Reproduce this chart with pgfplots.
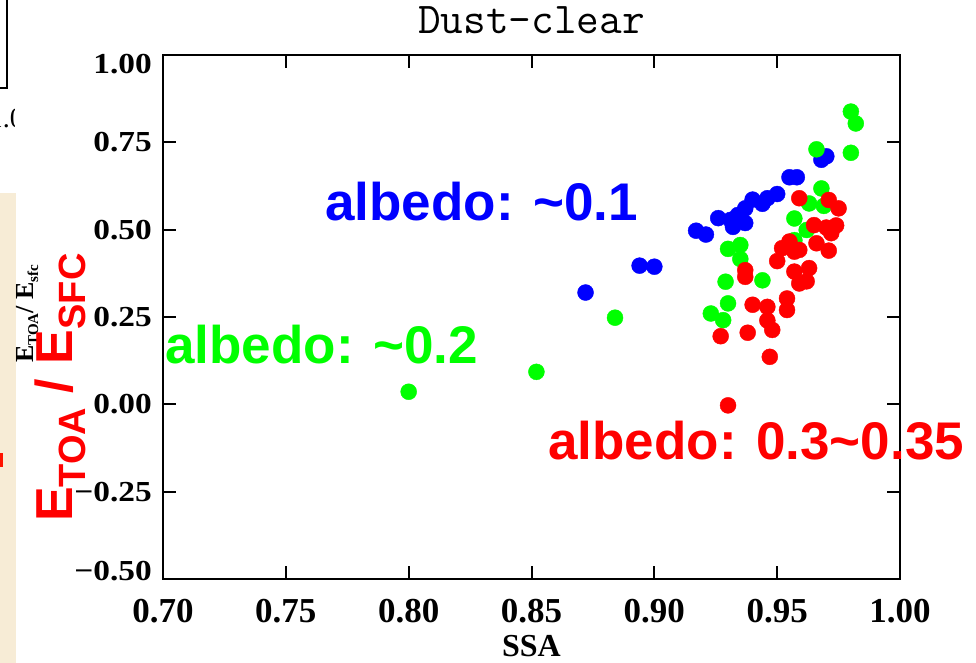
\documentclass[border=0pt]{standalone}
\usepackage{pgfplots}
\pgfplotsset{compat=1.18}
\usepackage{pgfplotstable}
\usepackage{graphicx}
\usepackage{fontspec}
\setmainfont{Liberation Serif}
\newfontfamily\sansfont{Liberation Sans}

\definecolor{pureblue}{RGB}{0,0,255}
\definecolor{puregreen}{RGB}{0,255,0}
\definecolor{purered}{RGB}{255,0,0}
\definecolor{parchment}{RGB}{247,236,214}

% single-scattering albedo vs. TOA/surface forcing ratio, grouped by surface albedo
\pgfplotstableread{
ssa ratio
0.872 0.320
0.894 0.397
0.900 0.394
0.917 0.497
0.921 0.486
0.926 0.533
0.931 0.528
0.932 0.508
0.934 0.542
0.937 0.519
0.937 0.561
0.940 0.586
0.944 0.574
0.946 0.590
0.950 0.602
0.955 0.650
0.958 0.650
0.968 0.700
0.970 0.710
}\albedoone

\pgfplotstableread{
ssa ratio
0.800 0.036
0.852 0.093
0.884 0.248
0.923 0.260
0.928 0.241
0.930 0.289
0.929 0.351
0.944 0.355
0.930 0.445
0.935 0.456
0.935 0.416
0.957 0.470
0.962 0.499
0.957 0.532
0.963 0.575
0.969 0.568
0.968 0.618
0.966 0.730
0.980 0.720
0.980 0.838
0.982 0.804
}\albedotwo

\pgfplotstableread{
ssa ratio
0.930 -0.003
0.927 0.195
0.938 0.205
0.947 0.136
0.946 0.240
0.948 0.213
0.940 0.285
0.946 0.279
0.954 0.303
0.954 0.270
0.937 0.365
0.937 0.384
0.950 0.410
0.952 0.447
0.955 0.466
0.957 0.437
0.957 0.380
0.959 0.346
0.963 0.390
0.962 0.352
0.959 0.590
0.971 0.585
0.975 0.561
0.965 0.513
0.970 0.506
0.974 0.512
0.972 0.490
0.966 0.461
0.971 0.440
0.959 0.442
}\albedothree

\newcommand\yl[1]{\scalebox{1.15}[1]{#1}}

\begin{document}
\begin{tikzpicture}
\path[use as bounding box] (0pt,0pt) rectangle (976pt,663pt);

% remnants of the neighbouring panel
\fill[parchment] (0pt,0pt) rectangle (16pt,470pt);
\fill[purered!85!orange] (0pt,196pt) rectangle (3pt,210pt);
\draw[line width=1.8pt] (-2pt,575pt) -- (7pt,575pt) -- (7pt,668pt);
\node[anchor=base east, inner sep=0pt, font=\fontsize{28}{28}\selectfont] at (24pt,535pt) {1.0};
\fill[white] (15pt,525pt) rectangle (40pt,565pt);

\begin{axis}[
  at={(163pt,84pt)}, anchor=south west,
  scale only axis, width=737pt, height=524pt,
  xmin=0.7, xmax=1.0, ymin=-0.5, ymax=1.0,
  axis line style={line width=2pt},
  tick style={line width=2pt, black},
  tick align=inside, major tick length=13pt,
  xtick={0.70,0.75,0.80,0.85,0.90,0.95,1.00},
  xticklabels={0.70,0.75,0.80,0.85,0.90,0.95,1.00},
  ytick={-0.5,-0.25,0,0.25,0.5,0.75,1},
  yticklabels={\yl{\raisebox{8pt}[\height][\depth]{−0.50}},\yl{−0.25},\yl{0.00},\yl{0.25},\yl{0.50},\yl{0.75},\yl{\raisebox{-9pt}[\height][\depth]{1.00}}},
  xticklabel style={font=\bfseries\fontsize{35}{35}\selectfont, inner sep=0pt},
  xticklabel shift=20pt,
  yticklabel style={font=\bfseries\fontsize{29}{29}\selectfont, inner sep=0pt},
  yticklabel shift=11pt,
  xlabel={SSA},
  xlabel style={at={(axis description cs:0.5,0)}, anchor=north, yshift=-56pt, inner sep=0pt, font=\bfseries\fontsize{32}{32}\selectfont},
  title={Dust–clear},
  title style={at={(axis description cs:0.5,1)}, anchor=base, yshift=15pt, inner sep=0pt, font=\ttfamily\fontsize{44}{44}\selectfont},
  clip=false,
]
\addplot[only marks, mark=*, mark size=8pt, pureblue] table[x=ssa, y=ratio] {\albedoone};
\addplot[only marks, mark=*, mark size=8pt, puregreen] table[x=ssa, y=ratio] {\albedotwo};
\addplot[only marks, mark=*, mark size=8pt, purered] table[x=ssa, y=ratio] {\albedothree};
\end{axis}

% group annotations
\begin{scope}[every node/.style={anchor=base west, inner sep=0pt, font=\sansfont\bfseries\fontsize{53}{53}\selectfont}]
\node[text=pureblue] at (325pt,442pt) {albedo: \textasciitilde0.1};
\node[text=puregreen] at (165pt,299pt) {albedo: \textasciitilde0.2};
\node[text=purered] at (548pt,203pt) {albedo: 0.3\textasciitilde0.35};
\end{scope}

% axis titles on the left
\node[anchor=base west, rotate=90, inner sep=0pt, font=\bfseries\fontsize{26}{26}\selectfont]
  at (33pt,300pt) {E\raisebox{-5pt}{\fontsize{15}{15}\selectfont TOA}/ E\raisebox{-5pt}{\fontsize{15}{15}\selectfont sfc}};
\node[anchor=base west, rotate=90, inner sep=0pt, text=purered, font=\sansfont\bfseries\fontsize{52}{52}\selectfont]
  at (72pt,141pt) {E\raisebox{-13pt}{\fontsize{38}{38}\selectfont TOA} / E\raisebox{-13pt}{\fontsize{38}{38}\selectfont SFC}};
\end{tikzpicture}
\end{document}
